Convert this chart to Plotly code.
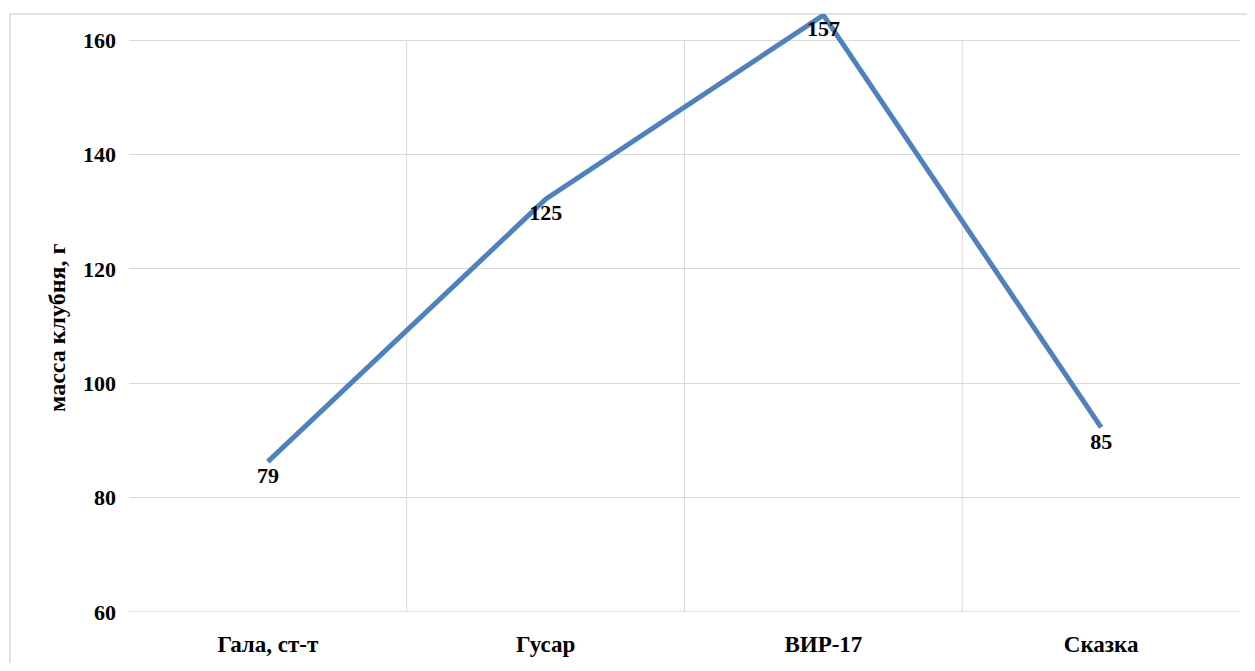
import plotly.graph_objects as go

categories = ["Гала, ст-т", "Гусар", "ВИР-17", "Сказка"]
line_values = [86.3, 132.2, 164.4, 92.3]
label_values = [79, 125, 157, 85]
y_ticks = [60, 80, 100, 120, 140, 160]

# page body has an 8px margin; figure is placed at (8, 8)
OFF = 8
W, H = 1255 - 2 * OFF, 671 - 2 * OFF
L, T = 129 - OFF, 14 - OFF
R = W - (1240 - OFF)
B = H - (612 - OFF)
pw, ph = W - L - R, H - T - B

def px_x(p):
    return (p - OFF - L) / pw

def px_y(p):
    return (H - B - (p - OFF)) / ph

FONT = "Liberation Serif"
grid = "#d9d9d9"

fig = go.Figure()
fig.add_trace(go.Scatter(
    x=categories, y=line_values, mode="lines+markers+text",
    line=dict(color="#4f81bd", width=5),
    marker=dict(size=6, color="rgba(0,0,0,0)"),
    text=[str(v) for v in label_values],
    textposition="bottom center",
    textfont=dict(family=FONT, size=22, color="#000000", weight="bold"),
    cliponaxis=False, showlegend=False, hoverinfo="skip",
))

# vertical gridlines between categories
for i in range(len(categories) - 1):
    fig.add_shape(type="line", xref="x", yref="y",
                  x0=i + 0.5, x1=i + 0.5, y0=y_ticks[0], y1=y_ticks[-1],
                  line=dict(color=grid, width=1), layer="below")

# bottom gridline at the axis minimum
fig.add_shape(type="line", xref="paper", yref="y",
              x0=0, x1=1, y0=y_ticks[0], y1=y_ticks[0],
              line=dict(color=grid, width=1.5), layer="below")

# chart border
fig.add_shape(type="rect", xref="paper", yref="paper",
              x0=px_x(10), x1=px_x(1262), y0=px_y(680), y1=px_y(14),
              line=dict(color="#d9d9d9", width=1.5), layer="below")

fig.add_annotation(text="масса клубня, г", textangle=-90,
                   xref="paper", yref="paper", x=px_x(57), y=px_y(328),
                   xanchor="center", yanchor="middle",
                   showarrow=False,
                   font=dict(family=FONT, size=24, color="#000000", weight="bold"))

fig.update_layout(
    width=W, height=H,
    margin=dict(l=L, r=R, t=T, b=B),
    paper_bgcolor="white", plot_bgcolor="white",
    xaxis=dict(showgrid=False, showline=False, zeroline=False,
               range=[-0.5, len(categories) - 0.5],
               tickfont=dict(family=FONT, size=23, color="#000000", weight="bold"),
               ticks="", ticklabelstandoff=16, fixedrange=True),
    yaxis=dict(range=[60, 164.6], tickvals=y_ticks, showgrid=True,
               gridcolor=grid, gridwidth=1, zeroline=False, showline=False,
               tickfont=dict(family=FONT, size=22, color="#000000", weight="bold"),
               ticks="", ticklabelstandoff=12, fixedrange=True),
)

fig.write_html("out.html")
